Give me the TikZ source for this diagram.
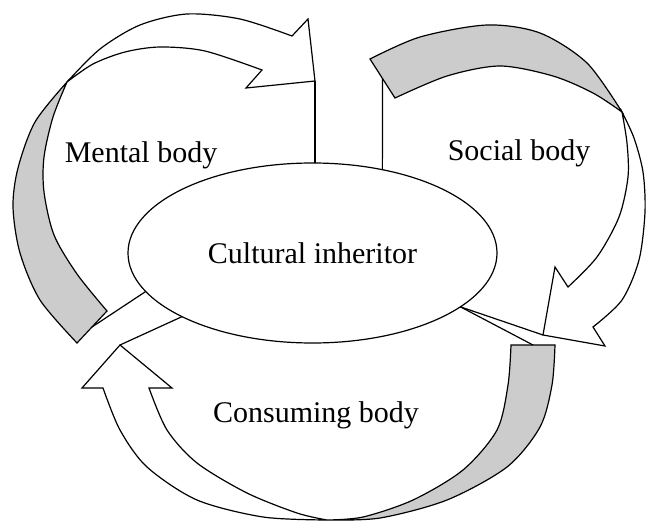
\documentclass[tikz,border=0pt]{standalone}
\usepackage{fontspec}
\setmainfont{Liberation Serif}
\usetikzlibrary{shapes.geometric}
\definecolor{bandgray}{RGB}{204,204,204}
\begin{document}
\begin{tikzpicture}[x=1pt,y=-1pt,
  outline/.style={draw=black,line width=1.2pt,line join=miter},
  backband/.style={outline,fill=bandgray},
  frontband/.style={outline,fill=white},
  link/.style={draw=black,line width=1.2pt},
  lbl/.style={font=\fontsize{30}{36}\selectfont,anchor=base,inner sep=0pt}]
\useasboundingbox (0,0) rectangle (646,522);

% ---------- Mental body arrow ----------
\path[backband] plot[smooth] coordinates {(77,343) (40,300) (20,253) (13,207) (18,168) (35,122) (67,82)}
  -- plot[smooth] coordinates {(67,82) (53,117) (44,157) (44,192) (54,235) (77,274) (107,311)} -- cycle;
\path[frontband] plot[smooth] coordinates {(67,82) (100,49) (140,25) (187,14) (240,19) (292,36)}
  -- (308,19) -- (315,81) -- (246,88) -- (262,70)
  -- plot[smooth] coordinates {(262,70) (205,51) (160,47) (125,52) (93,64) (67,82)} -- cycle;
\coordinate (tipM) at (315,81);
\coordinate (tailM) at (92,327);

% ---------- Social body arrow ----------
\path[backband] (370,59) -- plot[smooth] coordinates {(370,59) (420,37) (487,25) (540,33) (587,63) (622,112)}
  -- plot[smooth] coordinates {(622,112) (593,93) (553,76) (500,66) (447,76) (395,98)} -- cycle;
\path[frontband] plot[smooth] coordinates {(622,112) (634,138) (643,172) (645,212) (639,260) (622,300) (593,327)}
  -- (605,346) -- (543,335) -- (555,267) -- (568,287)
  -- plot[smooth] coordinates {(568,287) (597,257) (619,217) (628,177) (627,143) (622,112)} -- cycle;
\coordinate (tipS) at (543,335);
\coordinate (tailS) at (382.5,78.5);

% ---------- Consuming body arrow ----------
\path[backband] plot[smooth] coordinates {(327,520) (380,518) (447,500) (507,467) (540,427) (552,385) (555,345)}
  -- (511,345)
  -- plot[smooth] coordinates {(511,345) (508,385) (497,430) (463,470) (413,500) (363,517) (327,520)} -- cycle;
\path[frontband] (103,388) -- plot[smooth] coordinates {(103,388) (120,430) (147,467) (197,500) (263,517) (327,520)}
  -- plot[smooth] coordinates {(327,520) (297,513) (247,493) (197,463) (167,430) (149,388)}
  -- (172,388) -- (120,345) -- (82,388) -- cycle;
\coordinate (tipC) at (120,345);
\coordinate (tailC) at (533,345);

% ---------- centre ----------
\node[ellipse,draw=black,line width=1.2pt,fill=white,minimum width=369pt,minimum height=180pt,
      inner sep=0pt,outer sep=0pt] (ell) at (312.5,253) {};

\draw[link] (tipM) -- (tipM |- ell.north);
\draw[link] (tailS) -- (ell.50.2);
\draw[link] (tipS) -- (ell.340.6);
\draw[link] (tailC) -- (ell.340.6);
\draw[link] (tailM) -- (ell.193.5);
\draw[link] (tipC) -- (ell.206);

\node[lbl] (tc) at (312.5,263) {Cultural inheritor};
\node[lbl] (tm) at (141,162) {Mental body};
\node[lbl] (ts) at (519,160) {Social body};
\node[lbl] (tcons) at (316,422) {Consuming body};
\end{tikzpicture}
\end{document}
